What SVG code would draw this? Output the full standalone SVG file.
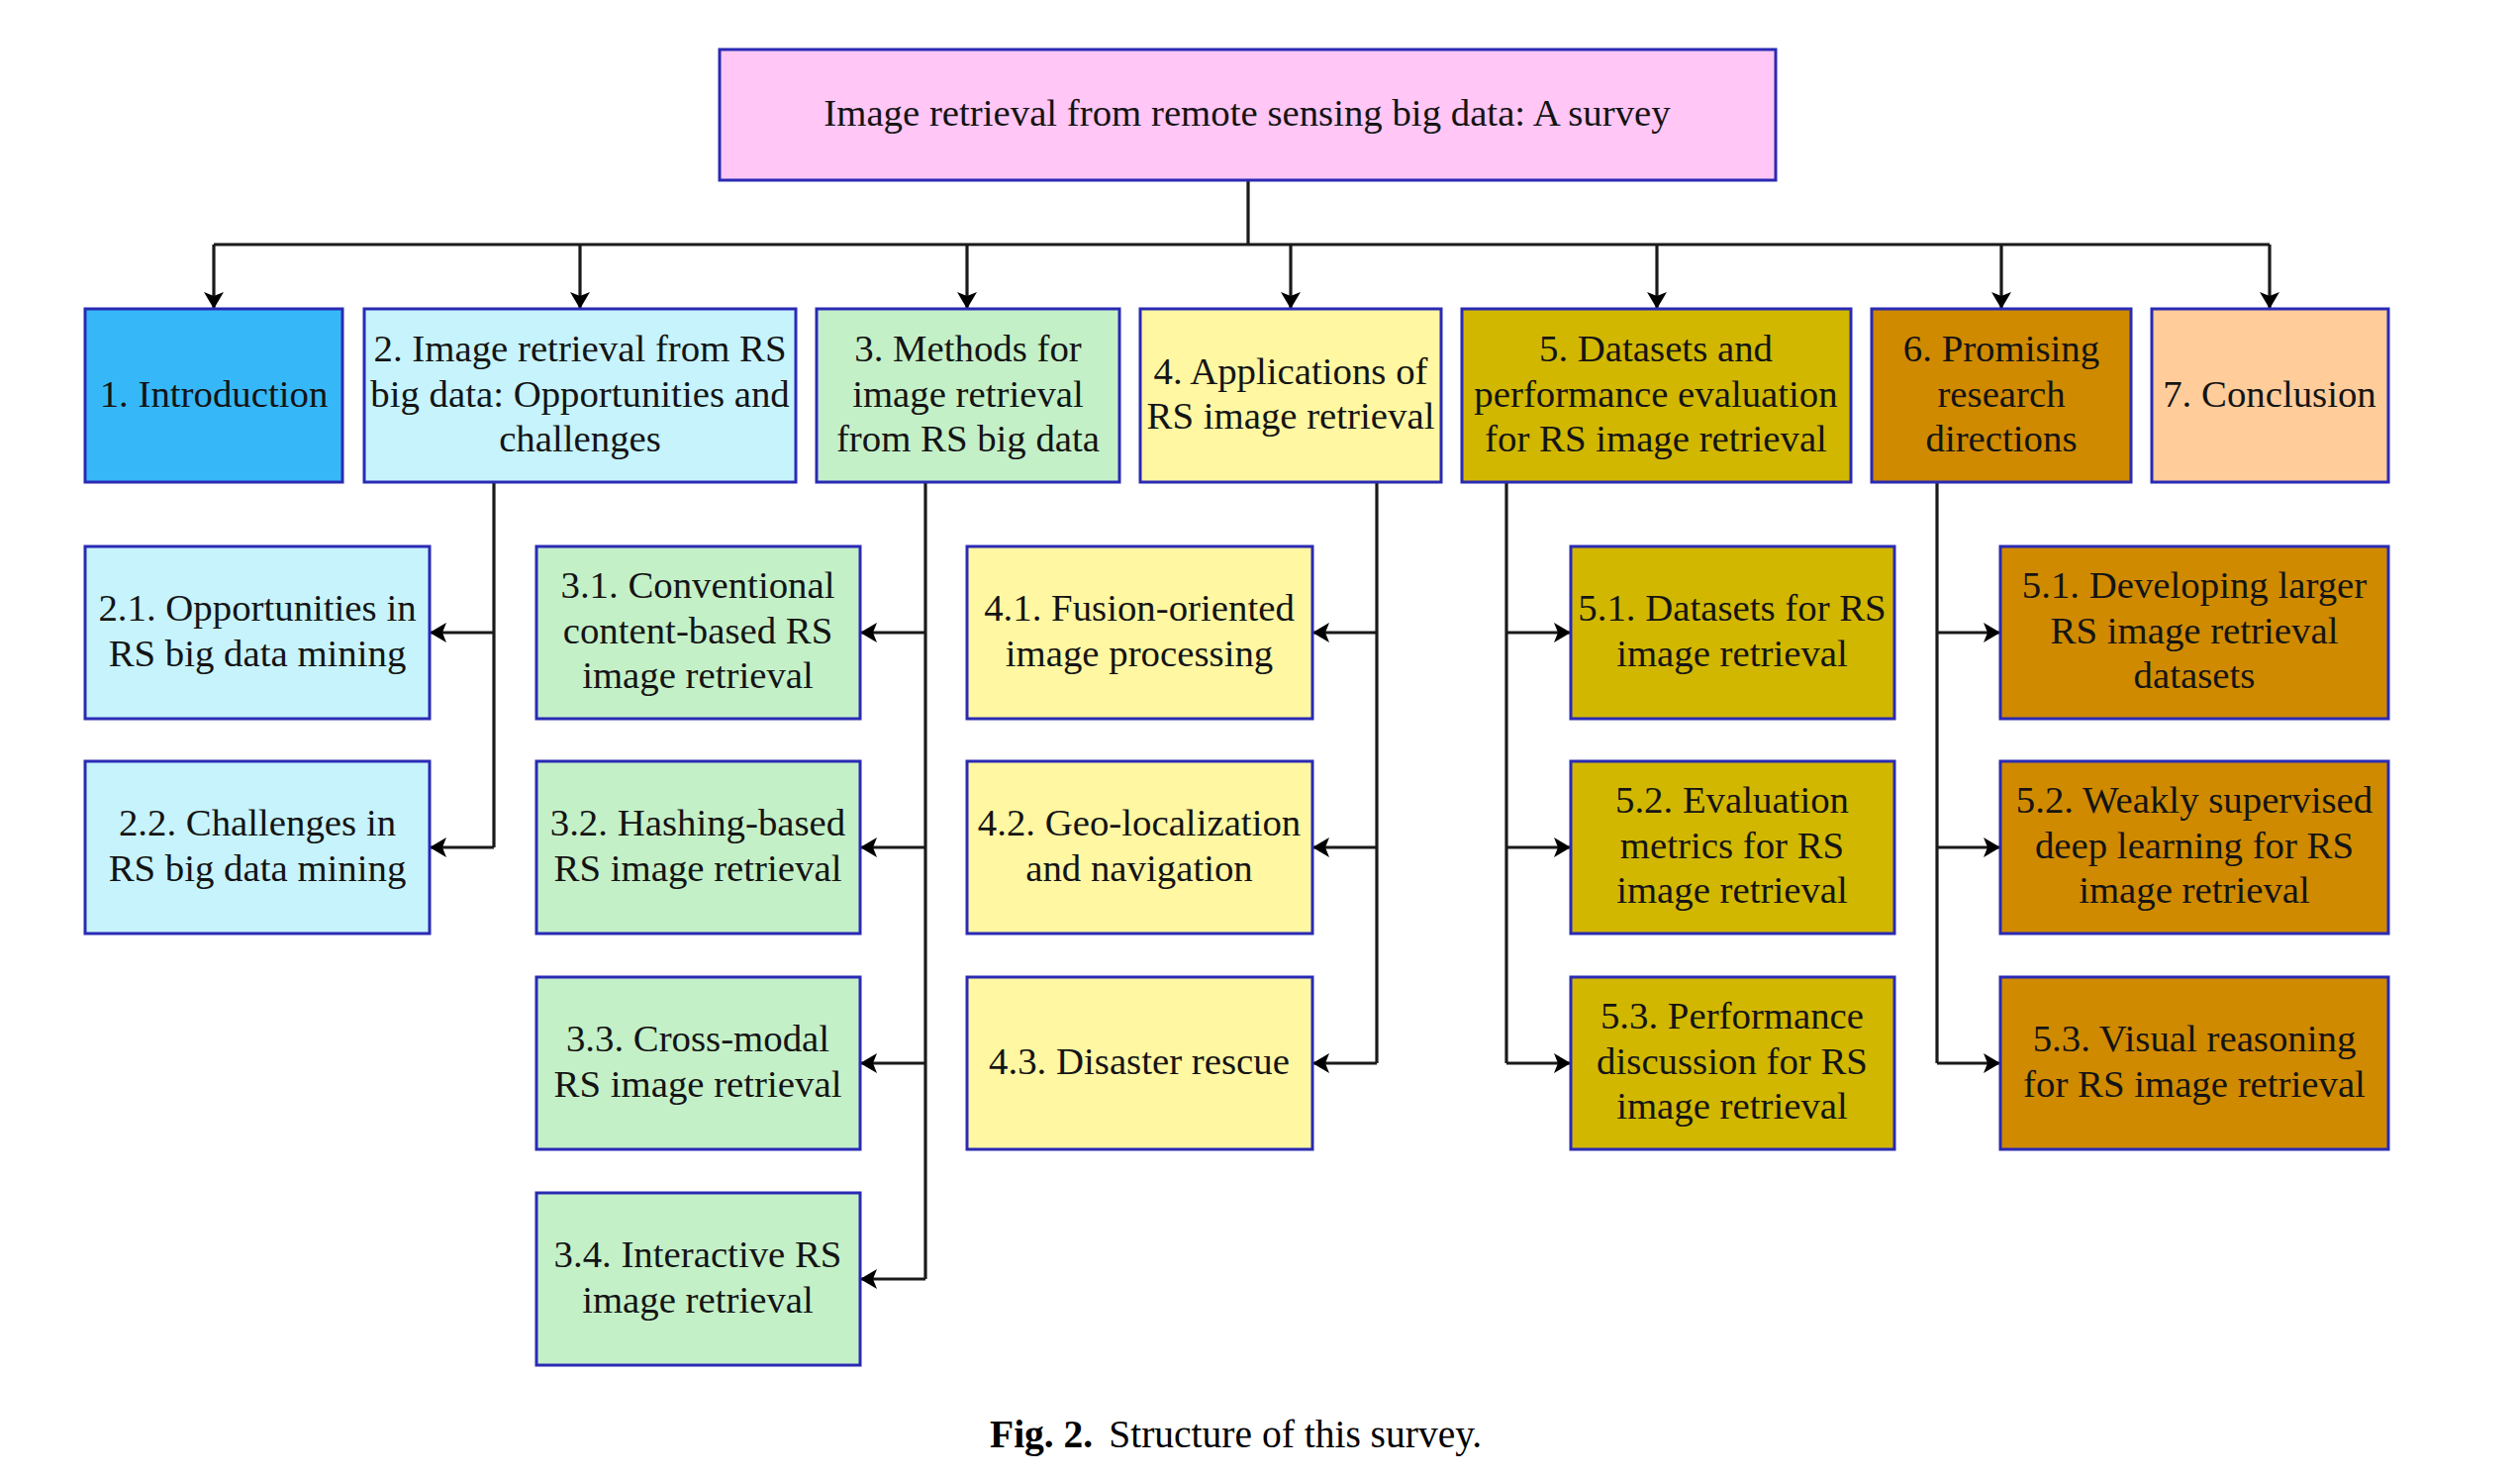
<svg xmlns="http://www.w3.org/2000/svg" width="2546" height="1492" viewBox="0 0 2546 1492">
<defs>
<style>
.box{stroke:#2a2ab4;stroke-width:3}
.t{font-family:"Liberation Serif","Times New Roman",serif;font-size:38.8px;fill:#141414;text-anchor:middle}
.c{fill:none;stroke:#1a1a1a;stroke-width:3.2}
.cap{font-family:"Liberation Serif","Times New Roman",serif;font-size:39.5px;fill:#000}
.pink{fill:#ffc6f6}.blue{fill:#36b8f8}.cyan{fill:#c6f3fc}.green{fill:#c4f0c8}.yel{fill:#fff7a2}.olive{fill:#d1b700}.orange{fill:#cf8a00}.peach{fill:#ffcc9a}
</style>
<marker id="ah" viewBox="0 0 17 20" refX="17" refY="10" markerWidth="17" markerHeight="20" markerUnits="userSpaceOnUse" orient="auto">
<path d="M0,0 L17,10 L0,20 L4,10 z" fill="#000"/>
</marker>
</defs>
<rect width="2546" height="1492" fill="#fff"/>

<g id="connectors">
<path class="c" d="M1261,182 V247 M216,247 H2293"/>
<path class="c" marker-end="url(#ah)" d="M216,247 V312"/>
<path class="c" marker-end="url(#ah)" d="M586,247 V312"/>
<path class="c" marker-end="url(#ah)" d="M977,247 V312"/>
<path class="c" marker-end="url(#ah)" d="M1304,247 V312"/>
<path class="c" marker-end="url(#ah)" d="M1674,247 V312"/>
<path class="c" marker-end="url(#ah)" d="M2022,247 V312"/>
<path class="c" marker-end="url(#ah)" d="M2293,247 V312"/>

<path class="c" d="M499,487 V856"/>
<path class="c" marker-end="url(#ah)" d="M499,639 H434"/>
<path class="c" marker-end="url(#ah)" d="M499,856 H434"/>

<path class="c" d="M935,487 V1292"/>
<path class="c" marker-end="url(#ah)" d="M935,639 H869"/>
<path class="c" marker-end="url(#ah)" d="M935,856 H869"/>
<path class="c" marker-end="url(#ah)" d="M935,1074 H869"/>
<path class="c" marker-end="url(#ah)" d="M935,1292 H869"/>

<path class="c" d="M1391,487 V1074"/>
<path class="c" marker-end="url(#ah)" d="M1391,639 H1326"/>
<path class="c" marker-end="url(#ah)" d="M1391,856 H1326"/>
<path class="c" marker-end="url(#ah)" d="M1391,1074 H1326"/>

<path class="c" d="M1522,487 V1074"/>
<path class="c" marker-end="url(#ah)" d="M1522,639 H1587"/>
<path class="c" marker-end="url(#ah)" d="M1522,856 H1587"/>
<path class="c" marker-end="url(#ah)" d="M1522,1074 H1587"/>

<path class="c" d="M1957,487 V1074"/>
<path class="c" marker-end="url(#ah)" d="M1957,639 H2021"/>
<path class="c" marker-end="url(#ah)" d="M1957,856 H2021"/>
<path class="c" marker-end="url(#ah)" d="M1957,1074 H2021"/>
</g>

<g id="n0"><rect class="box pink" x="727" y="50" width="1067" height="132"/>
<text class="t" x="1260" y="127">Image retrieval from remote sensing big data: A survey</text></g>

<g id="n1"><rect class="box blue" x="86" y="312" width="260" height="175"/>
<text class="t" x="216" y="411">1. Introduction</text></g>

<g id="n2"><rect class="box cyan" x="368" y="312" width="436" height="175"/>
<text class="t" x="586"><tspan x="586" y="365">2. Image retrieval from RS</tspan><tspan x="586" y="411">big data: Opportunities and</tspan><tspan x="586" y="456">challenges</tspan></text></g>

<g id="n3"><rect class="box green" x="825" y="312" width="306" height="175"/>
<text class="t"><tspan x="978" y="365">3. Methods for</tspan><tspan x="978" y="411">image retrieval</tspan><tspan x="978" y="456">from RS big data</tspan></text></g>

<g id="n4"><rect class="box yel" x="1152" y="312" width="304" height="175"/>
<text class="t"><tspan x="1304" y="388">4. Applications of</tspan><tspan x="1304" y="433">RS image retrieval</tspan></text></g>

<g id="n5"><rect class="box olive" x="1477" y="312" width="393" height="175"/>
<text class="t"><tspan x="1673" y="365">5. Datasets and</tspan><tspan x="1673" y="411">performance evaluation</tspan><tspan x="1673" y="456">for RS image retrieval</tspan></text></g>

<g id="n6"><rect class="box orange" x="1891" y="312" width="262" height="175"/>
<text class="t"><tspan x="2022" y="365">6. Promising</tspan><tspan x="2022" y="411">research</tspan><tspan x="2022" y="456">directions</tspan></text></g>

<g id="n7"><rect class="box peach" x="2174" y="312" width="239" height="175"/>
<text class="t" x="2293" y="411">7. Conclusion</text></g>

<g id="n2-1"><rect class="box cyan" x="86" y="552" width="348" height="174"/>
<text class="t"><tspan x="260" y="627">2.1. Opportunities in</tspan><tspan x="260" y="673">RS big data mining</tspan></text></g>

<g id="n2-2"><rect class="box cyan" x="86" y="769" width="348" height="174"/>
<text class="t"><tspan x="260" y="844">2.2. Challenges in</tspan><tspan x="260" y="890">RS big data mining</tspan></text></g>

<g id="n3-1"><rect class="box green" x="542" y="552" width="327" height="174"/>
<text class="t"><tspan x="705" y="604">3.1. Conventional</tspan><tspan x="705" y="650">content-based RS</tspan><tspan x="705" y="695">image retrieval</tspan></text></g>

<g id="n3-2"><rect class="box green" x="542" y="769" width="327" height="174"/>
<text class="t"><tspan x="705" y="844">3.2. Hashing-based</tspan><tspan x="705" y="890">RS image retrieval</tspan></text></g>

<g id="n3-3"><rect class="box green" x="542" y="987" width="327" height="174"/>
<text class="t"><tspan x="705" y="1062">3.3. Cross-modal</tspan><tspan x="705" y="1108">RS image retrieval</tspan></text></g>

<g id="n3-4"><rect class="box green" x="542" y="1205" width="327" height="174"/>
<text class="t"><tspan x="705" y="1280">3.4. Interactive RS</tspan><tspan x="705" y="1326">image retrieval</tspan></text></g>

<g id="n4-1"><rect class="box yel" x="977" y="552" width="349" height="174"/>
<text class="t"><tspan x="1151" y="627">4.1. Fusion-oriented</tspan><tspan x="1151" y="673">image processing</tspan></text></g>

<g id="n4-2"><rect class="box yel" x="977" y="769" width="349" height="174"/>
<text class="t"><tspan x="1151" y="844">4.2. Geo-localization</tspan><tspan x="1151" y="890">and navigation</tspan></text></g>

<g id="n4-3"><rect class="box yel" x="977" y="987" width="349" height="174"/>
<text class="t" x="1151" y="1085">4.3. Disaster rescue</text></g>

<g id="n5-1"><rect class="box olive" x="1587" y="552" width="327" height="174"/>
<text class="t"><tspan x="1750" y="627">5.1. Datasets for RS</tspan><tspan x="1750" y="673">image retrieval</tspan></text></g>

<g id="n5-2"><rect class="box olive" x="1587" y="769" width="327" height="174"/>
<text class="t"><tspan x="1750" y="821">5.2. Evaluation</tspan><tspan x="1750" y="867">metrics for RS</tspan><tspan x="1750" y="912">image retrieval</tspan></text></g>

<g id="n5-3"><rect class="box olive" x="1587" y="987" width="327" height="174"/>
<text class="t"><tspan x="1750" y="1039">5.3. Performance</tspan><tspan x="1750" y="1085">discussion for RS</tspan><tspan x="1750" y="1130">image retrieval</tspan></text></g>

<g id="n6-1"><rect class="box orange" x="2021" y="552" width="392" height="174"/>
<text class="t"><tspan x="2217" y="604">5.1. Developing larger</tspan><tspan x="2217" y="650">RS image retrieval</tspan><tspan x="2217" y="695">datasets</tspan></text></g>

<g id="n6-2"><rect class="box orange" x="2021" y="769" width="392" height="174"/>
<text class="t"><tspan x="2217" y="821">5.2. Weakly supervised</tspan><tspan x="2217" y="867">deep learning for RS</tspan><tspan x="2217" y="912">image retrieval</tspan></text></g>

<g id="n6-3"><rect class="box orange" x="2021" y="987" width="392" height="174"/>
<text class="t"><tspan x="2217" y="1062">5.3. Visual reasoning</tspan><tspan x="2217" y="1108">for RS image retrieval</tspan></text></g>

<text class="cap" x="1000" y="1462"><tspan font-weight="bold">Fig. 2.</tspan><tspan dx="16">Structure of this survey.</tspan></text>
</svg>
